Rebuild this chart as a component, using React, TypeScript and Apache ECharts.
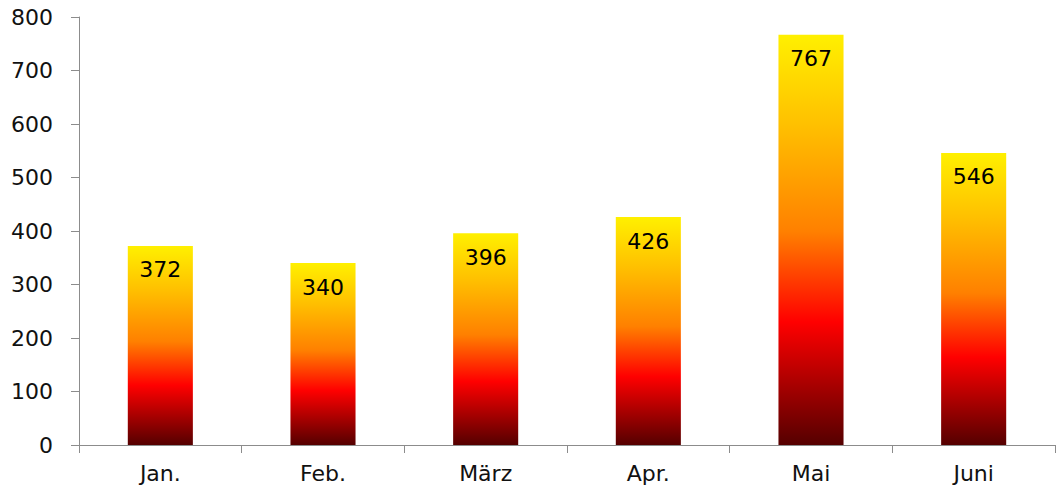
import React, { useEffect, useRef } from "react";
import * as echarts from "echarts";

const categories = ["Jan.", "Feb.", "März", "Apr.", "Mai", "Juni"];
const values = [372, 340, 396, 426, 767, 546];
const yTicks = [0, 100, 200, 300, 400, 500, 600, 700, 800];

export default function App() {
  const ref = useRef<HTMLDivElement>(null);
  useEffect(() => {
    if (!ref.current) return;
    const chart = echarts.init(ref.current, null, { renderer: "svg" });
    const grad = new echarts.graphic.LinearGradient(0, 0, 0, 1, [
      { offset: 0, color: "#fff000" },
      { offset: 0.22, color: "#ffc000" },
      { offset: 0.48, color: "#ff8000" },
      { offset: 0.7, color: "#ff0000" },
      { offset: 1, color: "#550000" },
    ]);
    chart.setOption({
      animation: false,
      textStyle: { fontFamily: "DejaVu Sans" },
      grid: { left: 79, right: 3, top: 17, bottom: 41, containLabel: false },
      xAxis: {
        type: "category",
        data: categories,
        axisLine: { lineStyle: { color: "#8c8c8c", width: 1 } },
        axisTick: { show: true, length: 8, lineStyle: { color: "#8c8c8c" } },
        axisLabel: { color: "#111", fontSize: 22, margin: 17, fontFamily: "DejaVu Sans" },
      },
      yAxis: {
        type: "value",
        min: yTicks[0],
        max: yTicks[yTicks.length - 1],
        interval: 100,
        axisLine: { show: true, lineStyle: { color: "#8c8c8c", width: 1 } },
        axisTick: { show: true, length: 8, lineStyle: { color: "#8c8c8c" } },
        splitLine: { show: false },
        axisLabel: { color: "#111", fontSize: 22, margin: 26, fontFamily: "DejaVu Sans" },
      },
      series: [
        {
          type: "bar",
          data: values,
          barWidth: "40%",
          itemStyle: { color: grad },
          label: {
            show: true,
            position: "insideTop",
            distance: 13,
            color: "#000",
            fontSize: 22,
            fontFamily: "DejaVu Sans",
          },
        },
      ],
    });
    return () => chart.dispose();
  }, []);
  return <div ref={ref} style={{ width: 1058, height: 486, position: "absolute", left: 0, top: 0 }} />;
}
